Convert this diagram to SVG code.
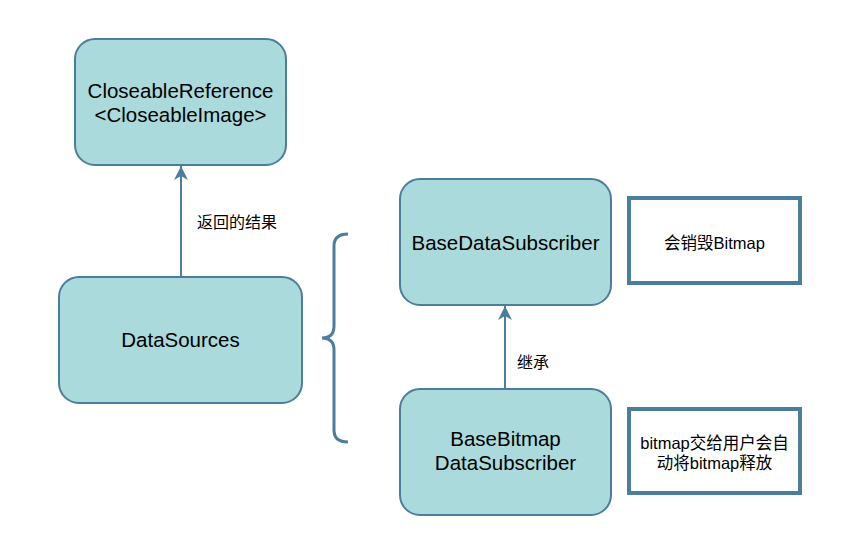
<svg xmlns="http://www.w3.org/2000/svg" width="860" height="554" viewBox="0 0 860 554">
<style>
.node{fill:#aadadb;stroke:#4b7d9d;stroke-width:2}
.nt{font-family:"Liberation Sans",Arial,sans-serif;font-size:20.5px;fill:#000;text-anchor:middle}
.lbl{font-family:"Liberation Sans","Noto Sans CJK SC",sans-serif;font-size:16px;fill:#000}
.note{fill:#fff;stroke:#4b7d9d;stroke-width:4}
.nx{font-family:"Liberation Sans","Noto Sans CJK SC",sans-serif;font-size:16.5px;fill:#000;text-anchor:middle}
.edge{stroke:#4b7d9d;stroke-width:2;fill:none}
</style>
<defs>
<marker id="arr" markerWidth="14" markerHeight="14" viewBox="0 0 14 14" refX="14" refY="7" orient="auto" markerUnits="userSpaceOnUse">
<path d="M14,7 L0,0 L4,7 L0,14 Z" fill="#4b7d9d"/>
</marker>
</defs>
<rect width="860" height="554" fill="#fff"/>
<g id="connectors">
<path class="edge" d="M181,277 L181,166" marker-end="url(#arr)"/>
<path class="edge" d="M505,389 L505,306" marker-end="url(#arr)"/>
<text class="lbl" x="197" y="228">返回的结果</text>
<text class="lbl" x="517" y="368">继承</text>
</g>
<g id="closeableReference">
<rect class="node" x="75" y="39" width="211" height="126" rx="20"/>
<text class="nt" x="180.5" y="98">CloseableReference</text>
<text class="nt" x="180.5" y="122">&lt;CloseableImage&gt;</text>
</g>
<g id="dataSources">
<rect class="node" x="59" y="277" width="243" height="126" rx="20"/>
<text class="nt" x="180.5" y="347">DataSources</text>
</g>
<g id="baseDataSubscriber">
<rect class="node" x="400" y="179" width="211" height="126" rx="20"/>
<text class="nt" x="505.5" y="250">BaseDataSubscriber</text>
</g>
<g id="baseBitmapDataSubscriber">
<rect class="node" x="400" y="389" width="211" height="126" rx="20"/>
<text class="nt" x="505.5" y="446">BaseBitmap</text>
<text class="nt" x="505.5" y="470">DataSubscriber</text>
</g>
<g id="brace">
<path d="M348,234 Q334,234 334,246 L334,326 Q334,338 322,338 Q334,338 334,350 L334,430 Q334,442 348,442" fill="none" stroke="#4b7d9d" stroke-width="3"/>
</g>
<g id="note1">
<rect class="note" x="629" y="198" width="171" height="85"/>
<text class="nx" x="714.5" y="249">会销毁Bitmap</text>
</g>
<g id="note2">
<rect class="note" x="629" y="409" width="171" height="84"/>
<text class="nx" x="714.5" y="449">bitmap交给用户会自</text>
<text class="nx" x="714.5" y="469">动将bitmap释放</text>
</g>
</svg>
